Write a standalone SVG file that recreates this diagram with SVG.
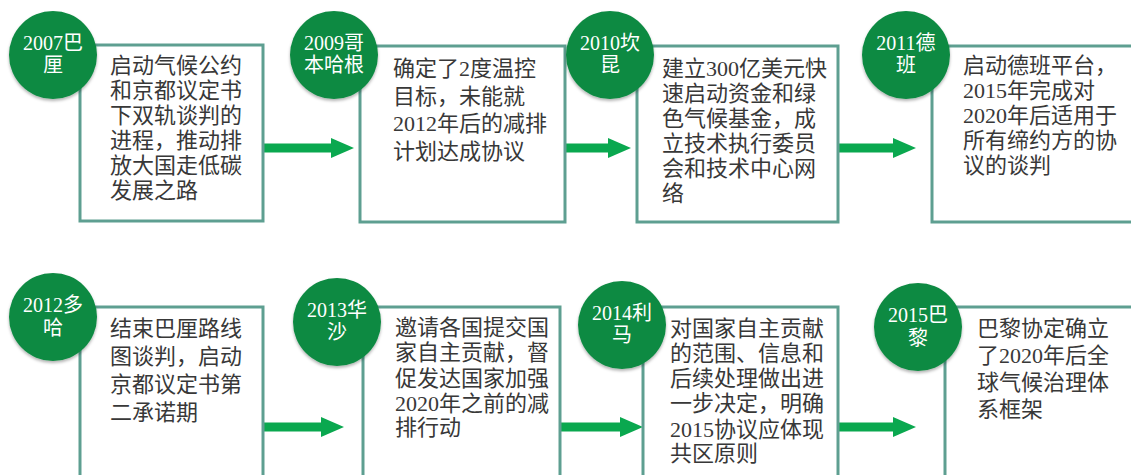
<svg xmlns="http://www.w3.org/2000/svg" width="1131" height="475" viewBox="0 0 1131 475">
<style>
.box{fill:#fff;stroke:#5e9f91;stroke-width:3}
.circ{fill:#118a43}
.ct{fill:#fff;font-family:"Liberation Serif","Noto Sans CJK SC",serif;font-size:20px;text-anchor:middle}
.bt{fill:#383838;font-family:"Liberation Serif","Noto Sans CJK SC",serif;font-size:22px}
.conn{stroke:#0aa84f;stroke-width:9;fill:none}
</style>
<defs>
<marker id="ah" markerUnits="userSpaceOnUse" markerWidth="24" markerHeight="20" refX="0" refY="10" orient="auto">
<polygon points="0,0 23,10 0,20" fill="#0aa84f"/>
</marker>
<filter id="sh" x="-20%" y="-20%" width="140%" height="150%">
<feDropShadow dx="0" dy="2" stdDeviation="1.5" flood-color="#000" flood-opacity="0.3"/>
</filter>
</defs>
<g id="connectors">
<line class="conn" x1="263" y1="148" x2="331" y2="148" marker-end="url(#ah)"/>
<line class="conn" x1="565" y1="148" x2="608" y2="148" marker-end="url(#ah)"/>
<line class="conn" x1="838" y1="148" x2="893" y2="148" marker-end="url(#ah)"/>
<line class="conn" x1="263" y1="427" x2="321" y2="427" marker-end="url(#ah)"/>
<line class="conn" x1="560" y1="427" x2="620" y2="427" marker-end="url(#ah)"/>
<line class="conn" x1="838" y1="427" x2="893" y2="427" marker-end="url(#ah)"/>
</g>
<g id="n2007">
<rect class="box" x="80" y="45" width="183" height="176"/>
<circle class="circ" cx="53" cy="55" r="44" filter="url(#sh)"/>
<text class="ct" x="53" y="50">2007巴</text><text class="ct" x="53" y="72">厘</text>
<text class="bt" x="110" y="73">启动气候公约</text>
<text class="bt" x="110" y="98">和京都议定书</text>
<text class="bt" x="110" y="123">下双轨谈判的</text>
<text class="bt" x="110" y="148">进程，推动排</text>
<text class="bt" x="110" y="173">放大国走低碳</text>
<text class="bt" x="110" y="198">发展之路</text>
</g>
<g id="n2009">
<rect class="box" x="360" y="46" width="205" height="176"/>
<circle class="circ" cx="334" cy="55" r="44" filter="url(#sh)"/>
<text class="ct" x="334" y="50">2009哥</text><text class="ct" x="334" y="72">本哈根</text>
<text class="bt" x="393" y="76">确定了2度温控</text>
<text class="bt" x="393" y="104">目标，未能就</text>
<text class="bt" x="393" y="131">2012年后的减排</text>
<text class="bt" x="393" y="159">计划达成协议</text>
</g>
<g id="n2010">
<rect class="box" x="637" y="46" width="201" height="176"/>
<circle class="circ" cx="610" cy="55" r="44" filter="url(#sh)"/>
<text class="ct" x="610" y="50">2010坎</text><text class="ct" x="610" y="72">昆</text>
<text class="bt" x="662" y="76">建立300亿美元快</text>
<text class="bt" x="662" y="101">速启动资金和绿</text>
<text class="bt" x="662" y="126">色气候基金，成</text>
<text class="bt" x="662" y="151">立技术执行委员</text>
<text class="bt" x="662" y="176">会和技术中心网</text>
<text class="bt" x="662" y="201">络</text>
</g>
<g id="n2011">
<rect class="box" x="932" y="46" width="210" height="176"/>
<circle class="circ" cx="906" cy="55" r="44" filter="url(#sh)"/>
<text class="ct" x="906" y="50">2011德</text><text class="ct" x="906" y="72">班</text>
<text class="bt" x="963" y="73">启动德班平台，</text>
<text class="bt" x="963" y="98">2015年完成对</text>
<text class="bt" x="963" y="123">2020年后适用于</text>
<text class="bt" x="963" y="148">所有缔约方的协</text>
<text class="bt" x="963" y="173">议的谈判</text>
</g>
<g id="n2012">
<rect class="box" x="80" y="307" width="183" height="180"/>
<circle class="circ" cx="53" cy="317" r="44" filter="url(#sh)"/>
<text class="ct" x="53" y="312">2012多</text><text class="ct" x="53" y="335">哈</text>
<text class="bt" x="110" y="336">结束巴厘路线</text>
<text class="bt" x="110" y="364">图谈判，启动</text>
<text class="bt" x="110" y="392">京都议定书第</text>
<text class="bt" x="110" y="420">二承诺期</text>
</g>
<g id="n2013">
<rect class="box" x="363" y="307" width="197" height="180"/>
<circle class="circ" cx="337" cy="322" r="44" filter="url(#sh)"/>
<text class="ct" x="337" y="317">2013华</text><text class="ct" x="337" y="339">沙</text>
<text class="bt" x="395" y="335">邀请各国提交国</text>
<text class="bt" x="395" y="360">家自主贡献，督</text>
<text class="bt" x="395" y="386">促发达国家加强</text>
<text class="bt" x="395" y="411">2020年之前的减</text>
<text class="bt" x="395" y="435">排行动</text>
</g>
<g id="n2014">
<rect class="box" x="643" y="307" width="195" height="180"/>
<circle class="circ" cx="622" cy="325" r="44" filter="url(#sh)"/>
<text class="ct" x="622" y="320">2014利</text><text class="ct" x="622" y="342">马</text>
<text class="bt" x="670" y="336">对国家自主贡献</text>
<text class="bt" x="670" y="361">的范围、信息和</text>
<text class="bt" x="670" y="386">后续处理做出进</text>
<text class="bt" x="670" y="411">一步决定，明确</text>
<text class="bt" x="670" y="437">2015协议应体现</text>
<text class="bt" x="670" y="461">共区原则</text>
</g>
<g id="n2015">
<rect class="box" x="945" y="307" width="200" height="180"/>
<circle class="circ" cx="918" cy="327" r="44" filter="url(#sh)"/>
<text class="ct" x="918" y="322">2015巴</text><text class="ct" x="918" y="345">黎</text>
<text class="bt" x="977" y="336">巴黎协定确立</text>
<text class="bt" x="977" y="363">了2020年后全</text>
<text class="bt" x="977" y="390">球气候治理体</text>
<text class="bt" x="977" y="417">系框架</text>
</g>
</svg>
